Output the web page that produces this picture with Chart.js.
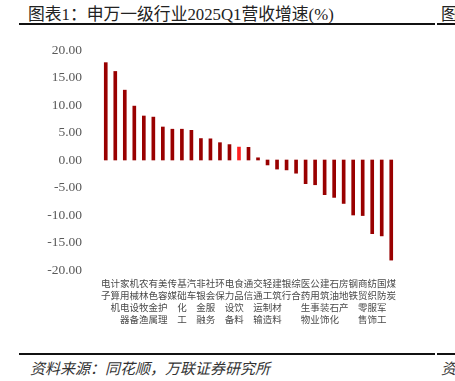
<!DOCTYPE html>
<html>
<head>
<meta charset="utf-8">
<script src="https://cdn.jsdelivr.net/npm/chart.js@4"></script>
<style>
  html, body { margin: 0; padding: 0; background: #fff; }
  body { width: 455px; height: 381px; position: relative; overflow: hidden;
         font-family: "Liberation Serif", "Noto Sans CJK SC", serif; }
  .title { position: absolute; left: 28px; top: 1px; font-size: 16.8px; color: #222; white-space: nowrap; }
  .rule { position: absolute; height: 2px; background: #111; }
  .source { position: absolute; left: 30px; top: 357px; font-size: 15px; color: #333;
            font-style: italic; white-space: nowrap; }
  .wrap { position: absolute; left: 0; top: 0; width: 455px; height: 340px; }
</style>
</head>
<body>
<div class="title">图表1：申万一级行业2025Q1营收增速(%)</div>
<div class="title" style="left:441px">图</div>
<div class="rule" style="left:19px; top:23px; width:416px"></div>
<div class="rule" style="left:437px; top:23px; width:18px"></div>
<div class="wrap"><canvas id="c"></canvas></div>
<div class="rule" style="left:19px; top:353px; width:416px"></div>
<div class="rule" style="left:437px; top:353px; width:18px"></div>
<div class="source">资料来源：同花顺，万联证券研究所</div>
<div class="source" style="left:441px">资</div>
<script>
// 申万一级行业 2025Q1 营收同比增速 (%)
var industries = ['电子', '计算机', '家用电器', '机械设备', '农林牧渔', '有色金属', '美容护理',
  '传媒', '基础化工', '汽车', '非银金融', '社会服务', '环保', '电力设备', '食品饮料', '通信',
  '交通运输', '轻工制造', '建筑材料', '银行', '综合', '医药生物', '公用事业', '建筑装饰',
  '石油石化', '房地产', '钢铁', '商贸零售', '纺织服饰', '国防军工', '煤炭'];
var growth = [17.7, 16.1, 12.7, 9.8, 8.0, 7.8, 6.0,
  5.6, 5.6, 5.4, 3.9, 3.85, 3.15, 2.8, 2.35, 2.3,
  0.4, -0.9, -1.65, -1.8, -2.4, -4.3, -4.5, -6.3,
  -6.8, -7.9, -10.0, -10.1, -13.4, -13.8, -18.2];
var highlight = '食品饮料';
var yMin = -20, yMax = 20, yStep = 5;

var DARK = '#990000';
var BRIGHT = '#ff2020';

new Chart(document.getElementById('c'), {
  type: 'bar',
  data: {
    labels: industries,
    datasets: [{
      data: growth,
      backgroundColor: industries.map(function (n) { return n === highlight ? BRIGHT : DARK; }),
      barThickness: 3,
    }],
  },
  options: {
    responsive: true,
    maintainAspectRatio: false,
    animation: false,
    layout: { padding: { top: 50, right: 59, bottom: 0, left: 0 } },
    plugins: { legend: { display: false }, tooltip: { enabled: false } },
    scales: {
      x: {
        grid: { display: false, drawTicks: false },
        border: { display: false },
        afterFit: function (s) { s.height = 70; },
        ticks: {
          autoSkip: false, maxRotation: 0, minRotation: 0, padding: 7,
          color: '#4a4a4a',
          font: { family: '"Noto Sans CJK SC", sans-serif', size: 9.5, lineHeight: 1.26 },
          callback: function (v) { return this.getLabelForValue(v).split(''); },
        },
      },
      y: {
        min: yMin, max: yMax,
        grid: { display: false, drawTicks: false },
        border: { display: false },
        afterFit: function (s) { s.width = 101; },
        ticks: {
          stepSize: yStep, padding: 19, color: '#595959',
          font: { family: '"Liberation Serif", serif', size: 13.5 },
          callback: function (v) { return Number(v).toFixed(2); },
        },
      },
    },
  },
});
</script>
</body>
</html>
